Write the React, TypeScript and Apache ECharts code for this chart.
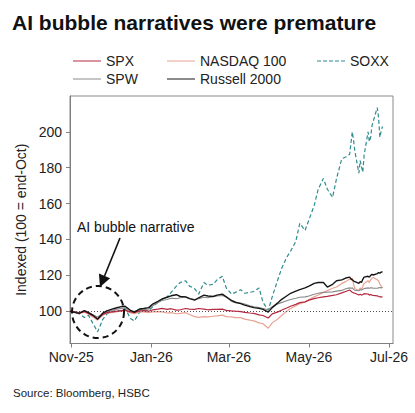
import React, { useEffect, useRef } from "react";
import * as echarts from "echarts";

// Observation dates (twice a week, then daily through June)
const dates = [
  "2025-10-31", "2025-11-04", "2025-11-07", "2025-11-11", "2025-11-14", "2025-11-18", "2025-11-21",
  "2025-11-25", "2025-11-28", "2025-12-02", "2025-12-05", "2025-12-09", "2025-12-12", "2025-12-16",
  "2025-12-19", "2025-12-23", "2025-12-26", "2025-12-30", "2026-01-02", "2026-01-06", "2026-01-09",
  "2026-01-13", "2026-01-16", "2026-01-20", "2026-01-23", "2026-01-27", "2026-01-30", "2026-02-03",
  "2026-02-06", "2026-02-10", "2026-02-13", "2026-02-17", "2026-02-20", "2026-02-24", "2026-02-27",
  "2026-03-03", "2026-03-06", "2026-03-10", "2026-03-13", "2026-03-17", "2026-03-20", "2026-03-24",
  "2026-03-27", "2026-03-31", "2026-04-03", "2026-04-07", "2026-04-10", "2026-04-14", "2026-04-17",
  "2026-04-21", "2026-04-24", "2026-04-28", "2026-05-01", "2026-05-05", "2026-05-08", "2026-05-12",
  "2026-05-15", "2026-05-19", "2026-05-22", "2026-05-26", "2026-05-29",
  "2026-06-01", "2026-06-02", "2026-06-03", "2026-06-04", "2026-06-05", "2026-06-08", "2026-06-09",
  "2026-06-10", "2026-06-11", "2026-06-12", "2026-06-15", "2026-06-16", "2026-06-17", "2026-06-18",
  "2026-06-19", "2026-06-22", "2026-06-23", "2026-06-24", "2026-06-25", "2026-06-26",
];

const spx = [
  100, 99.6, 99.0, 99.8, 98.8, 97.2, 95.8, 98.2, 99.2, 99.6, 99.9, 100.3, 100.6, 99.6, 99.2, 100.2, 100.4, 100.0,
  100.8, 101.2, 101.6, 101.0, 101.4, 100.6, 100.8, 101.5, 101.2, 101.0, 101.5, 101.2, 100.8, 101.0, 101.0, 101.2,
  100.5, 100.2, 100.0, 99.8, 99.4, 99.0, 98.8, 98.0, 97.6, 96.2, 98.5, 99.5, 100.5, 101.8, 102.8, 103.8, 104.8,
  105.2, 106.2, 107.0, 107.5, 108.0, 108.3, 108.8, 109.2, 110.2, 111.0,
  111.8, 111.2, 110.6, 110.2, 110.0, 109.0, 109.5, 109.0, 109.3, 109.8, 109.6, 109.0, 109.3, 109.0, 108.8,
  108.6, 108.2, 108.0, 108.1, 107.8,
];

const nasdaq100 = [
  100, 99.8, 98.6, 99.5, 98.4, 96.5, 95.0, 97.8, 99.0, 99.2, 99.6, 100.0, 100.4, 99.0, 98.6, 99.6, 99.6, 99.2,
  99.6, 99.8, 99.6, 99.0, 99.2, 98.6, 98.8, 99.2, 98.2, 97.0, 96.6, 97.0, 96.8, 97.2, 97.4, 97.8,
  97.0, 96.8, 96.4, 96.4, 95.6, 95.0, 94.6, 93.5, 93.0, 90.5, 93.5, 95.5, 97.5, 100.0, 101.5, 103.0, 104.2,
  105.0, 106.5, 108.0, 109.0, 110.5, 111.5, 112.8, 113.5, 115.5, 116.5,
  118.0, 117.5, 118.5, 115.0, 112.5, 111.5, 113.0, 112.0, 114.0, 115.5, 117.0, 116.0, 117.5, 118.5, 118.8,
  117.5, 117.0, 115.0, 114.0, 113.0,
];

const soxx = [
  100, 99.0, 98.6, 96.5, 97.8, 92.5, 88.5, 95.5, 98.5, 99.8, 100.5, 100.2, 101.6, 96.0, 94.5, 99.5, 100.0, 100.4,
  102.5, 105.0, 106.5, 108.0, 110.5, 114.0, 116.0, 117.0, 114.0, 112.5, 109.5, 116.0, 114.5, 115.0, 117.5, 119.5,
  113.0, 109.5, 110.5, 112.0, 110.0, 110.5, 111.0, 113.0, 105.0, 100.5, 108.0, 117.0, 123.5, 130.0, 133.5, 139.0, 149.0,
  145.0, 151.0, 159.0, 168.0, 174.0, 168.0, 163.5, 174.0, 185.0, 186.0,
  187.5, 194.0, 200.0, 195.0, 189.0, 177.0, 184.0, 180.5, 177.5, 187.0, 200.0, 194.5, 197.0, 203.5, 206.0,
  213.5, 208.0, 197.0, 200.5, 203.0,
];

const spw = [
  100, 99.7, 99.3, 100.2, 99.4, 97.8, 96.8, 98.5, 99.6, 100.5, 101.0, 101.6, 101.8, 100.2, 99.8, 101.0, 100.8, 101.2,
  103.0, 104.8, 106.0, 106.5, 107.2, 107.0, 107.5, 108.0, 107.2, 106.5, 107.0, 107.8, 107.5, 108.2, 108.5, 108.8,
  108.0, 105.5, 104.8, 104.5, 104.0, 103.0, 102.5, 102.0, 101.5, 100.8, 102.5, 104.0, 104.8, 105.8, 106.5, 107.2, 107.8,
  108.0, 108.5, 109.5, 110.0, 110.5, 110.6, 110.8, 111.2, 111.6, 112.5,
  113.0, 112.8, 113.0, 112.2, 111.7, 111.5, 112.0, 111.8, 112.2, 112.6, 113.0, 112.8, 113.0, 113.0, 112.8,
  112.8, 113.0, 113.2, 113.0, 113.2,
];

const russell2000 = [
  100, 99.2, 98.8, 100.3, 99.2, 97.5, 95.5, 99.0, 100.2, 101.2, 101.8, 102.6, 102.8, 100.5, 99.5, 101.2, 101.5, 102.0,
  104.0, 105.5, 106.8, 107.8, 108.6, 109.2, 108.2, 108.0, 107.0, 106.2, 107.5, 109.0, 108.5, 108.2, 109.0, 109.5,
  108.0, 106.0, 105.0, 104.2, 103.4, 102.6, 102.0, 101.6, 101.0, 99.5, 102.0, 104.5, 106.5, 108.5, 110.0, 111.2, 112.0,
  113.0, 114.0, 115.5, 116.0, 116.0, 113.5, 115.0, 117.0, 117.5, 118.5,
  119.0, 118.0, 117.5, 116.8, 116.5, 115.5, 116.5, 116.0, 117.8, 119.0, 119.5, 119.0, 120.0, 120.5, 120.2,
  121.0, 121.5, 121.2, 121.8, 122.0,
];

const yTicks = [100, 120, 140, 160, 180, 200];
const monthTicks = ["2025-11-01", "2026-01-01", "2026-03-01", "2026-05-01", "2026-07-01"];
const monthNames = ["Jan", "Feb", "Mar", "Apr", "May", "Jun", "Jul", "Aug", "Sep", "Oct", "Nov", "Dec"];

const FONT = '"Liberation Sans", Arial, sans-serif';

// Legend swatches: a plain stroke and a dashed stroke, both 28 units wide
const SOLID_ICON = "path://M0,0H28V1H0Z";
const DASHED_ICON =
  "path://M0,0H4V1H0Z M6,0H10V1H6Z M12,0H16V1H12Z M18,0H22V1H18Z M24,0H28V1H24Z";

const ts = (s: string) => {
  const [y, m, d] = s.split("-").map(Number);
  return Date.UTC(y, m - 1, d);
};

const fmtMonth = (v: number) => {
  const d = new Date(v);
  return `${monthNames[d.getUTCMonth()]}-${String(d.getUTCFullYear()).slice(2)}`;
};

const pairs = (vals: number[]) => dates.map((d, i) => [ts(d), vals[i]]);

export default function App() {
  const ref = useRef<HTMLDivElement>(null);

  useEffect(() => {
    document.body.style.margin = "0";
    if (!ref.current) return;
    const chart = echarts.init(ref.current, null, { renderer: "svg" });

    const legendItem = (name: string, left: number, top: number, icon: string, h = 1.5) => ({
      data: [{ name, icon }],
      left,
      top,
      padding: 0,
      itemWidth: 28,
      itemHeight: h,
      itemGap: 0,
      textStyle: { fontSize: 14, color: "#222", fontFamily: FONT },
    });

    chart.setOption({
      animation: false,
      backgroundColor: "#fff",
      textStyle: { fontFamily: FONT },
      title: {
        text: "AI bubble narratives were premature",
        left: 12,
        top: 12,
        padding: 0,
        textStyle: { fontSize: 21, fontWeight: "bold", color: "#111", fontFamily: FONT },
      },
      legend: [
        legendItem("SPX", 73, 54, SOLID_ICON),
        legendItem("NASDAQ 100", 167, 54, SOLID_ICON),
        legendItem("SOXX", 317, 54, DASHED_ICON),
        legendItem("SPW", 73, 72, SOLID_ICON, 1.2),
        legendItem("Russell 2000", 167, 72, SOLID_ICON, 1.8),
      ],
      grid: {
        left: 70,
        top: 96,
        width: 323,
        height: 247.5,
        show: true,
        borderColor: "#8a8a8a",
        borderWidth: 1,
        backgroundColor: "transparent",
      },
      xAxis: {
        type: "value",
        min: ts("2025-10-31"),
        max: ts("2026-07-04"),
        splitLine: { show: false },
        axisLine: { show: true, lineStyle: { color: "#7f7f7f" } },
        axisTick: {
          show: true,
          length: 4,
          customValues: monthTicks.map(ts),
          lineStyle: { color: "#7f7f7f" },
        },
        axisLabel: {
          customValues: monthTicks.map(ts),
          formatter: (v: number) => fmtMonth(v),
          fontSize: 14,
          color: "#222",
          margin: 6,
          hideOverlap: false,
        },
      },
      yAxis: {
        type: "value",
        min: 82,
        max: 220,
        splitLine: { show: false },
        axisLine: { show: true, lineStyle: { color: "#7f7f7f" } },
        axisTick: {
          show: true,
          length: 4,
          customValues: yTicks,
          lineStyle: { color: "#7f7f7f" },
        },
        axisLabel: {
          customValues: yTicks,
          fontSize: 14,
          color: "#222",
          margin: 8,
        },
        name: "Indexed (100 = end-Oct)",
        nameLocation: "middle",
        nameGap: 37,
        nameTextStyle: { fontSize: 14, color: "#222", fontFamily: FONT },
      },
      series: [
        {
          name: "SOXX",
          type: "line",
          data: pairs(soxx),
          symbol: "none",
          color: "#2f8c8e",
          lineStyle: { color: "#2f8c8e", width: 1.2, type: [4, 2.5] },
          z: 2,
          markLine: {
            silent: true,
            symbol: "none",
            label: { show: false },
            lineStyle: { type: [1, 2], color: "#555", width: 1 },
            data: [{ yAxis: 100 }],
          },
        },
        {
          name: "NASDAQ 100",
          type: "line",
          data: pairs(nasdaq100),
          symbol: "none",
          color: "#e9a292",
          lineStyle: { color: "#e9a292", width: 1.2 },
          z: 3,
        },
        {
          name: "SPW",
          type: "line",
          data: pairs(spw),
          symbol: "none",
          color: "#8a8a8a",
          lineStyle: { color: "#8a8a8a", width: 1.1 },
          z: 4,
        },
        {
          name: "SPX",
          type: "line",
          data: pairs(spx),
          symbol: "none",
          color: "#b3283e",
          lineStyle: { color: "#b3283e", width: 1.2 },
          z: 5,
        },
        {
          name: "Russell 2000",
          type: "line",
          data: pairs(russell2000),
          symbol: "none",
          color: "#161616",
          lineStyle: { color: "#161616", width: 1.4 },
          z: 6,
        },
      ],
      graphic: [
        {
          type: "text",
          z: 100,
          style: {
            x: 77,
            y: 227,
            text: "AI bubble narrative",
            font: `14px ${FONT}`,
            fill: "#111",
            verticalAlign: "middle",
          },
        },
        {
          type: "line",
          z: 100,
          shape: { x1: 120, y1: 238, x2: 104.5, y2: 276 },
          style: { stroke: "#111", lineWidth: 1.6 },
        },
        {
          type: "polygon",
          z: 100,
          shape: { points: [[100, 287], [110.1, 278.2], [98.9, 273.6]] },
          style: { fill: "#111" },
        },
        {
          type: "circle",
          z: 100,
          shape: { cx: 98, cy: 312, r: 26 },
          style: { fill: "none", stroke: "#111", lineWidth: 2, lineDash: [6, 4] },
        },
        {
          type: "text",
          z: 100,
          style: {
            x: 13,
            y: 393,
            text: "Source: Bloomberg, HSBC",
            font: `11.5px ${FONT}`,
            fill: "#222",
            verticalAlign: "middle",
          },
        },
      ],
    });

    return () => chart.dispose();
  }, []);

  return <div ref={ref} style={{ width: 415, height: 413 }} />;
}
